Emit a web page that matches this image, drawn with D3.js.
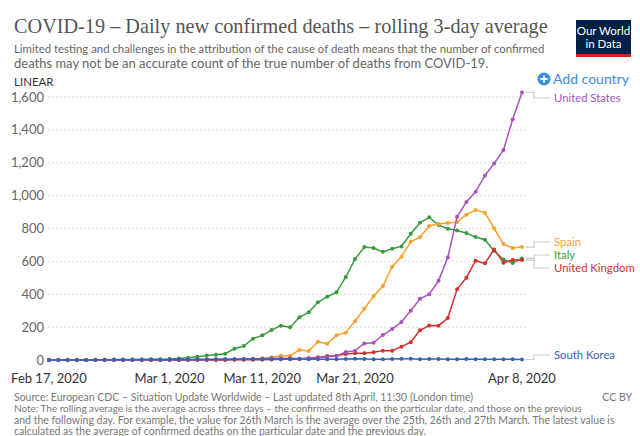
<!doctype html>
<html>
<head>
<meta charset="utf-8">
<title>COVID-19 daily new confirmed deaths</title>
<script src="https://d3js.org/d3.v7.min.js"></script>
<style>
  body { margin: 0; background: #fff; }
  svg text { font-family: Lato, "Noto Sans", sans-serif; }
</style>
</head>
<body>
<svg id="chart" width="640" height="436"></svg>
<script>
// Feb 17 .. Apr 8 2020, one value per day (rolling 3-day average)
var startDate = "2020-02-17";
var endDate = "2020-04-08";

var italy = [0, 0, 0, 0, 0.3, 1, 2, 2.7, 3, 3.3, 3, 4, 5, 6, 9, 14, 20, 28, 32, 38, 69, 85, 130, 150, 182, 209, 199, 260, 290, 351,
  385, 412, 505, 614, 687, 681, 658, 677, 691, 768, 835, 868, 821, 798, 788, 772, 748, 732, 663, 612, 590, 618];
var spain = [0, 0, 0, 0, 0, 0, 0, 0, 0, 0, 0, 0, 0, 0, 0, 0, 1, 1, 2, 2, 3, 5, 8, 10, 16, 26, 26, 61, 55, 111,
  99, 150, 166, 237, 312, 389, 450, 567, 628, 719, 747, 815, 827, 833, 839, 884, 912, 896, 800, 705, 681, 687];
var unitedStates = [0, 0, 0, 0, 0, 0, 0, 0, 0, 0, 0, 0, 0.3, 0.7, 1.3, 2, 2, 2, 3, 4, 5, 6, 8, 8, 10, 10, 11, 8, 10, 12,
  20, 24, 49, 57, 101, 105, 152, 188, 231, 300, 372, 400, 482, 624, 871, 961, 1024, 1121, 1196, 1277, 1465, 1628];
var unitedKingdom = [0, 0, 0, 0, 0, 0, 0, 0, 0, 0, 0, 0, 0, 0, 0, 0, 0, 0, 0.3, 0.7, 1, 2, 2, 3, 3, 5, 5, 7, 10, 16,
  24, 26, 36, 41, 41, 47, 57, 57, 81, 108, 181, 210, 209, 255, 430, 501, 604, 588, 673, 592, 608, 608];
var southKorea = [0, 0, 0, 0, 0.3, 0.7, 1, 1.3, 2, 2, 2.3, 2.7, 2, 2.3, 2.7, 3, 4, 5, 5, 5, 4, 5, 5, 3, 4, 5,
  6, 6, 5, 5, 4, 5, 6, 7, 6, 5, 5, 6, 7, 7, 5, 6, 6, 5, 5, 6, 5, 5, 4, 4, 4, 3];

var countryNames = ["Italy", "Spain", "United Kingdom", "United States", "South Korea"];
var countryValues = [italy, spain, unitedKingdom, unitedStates, southKorea];
var countryColors = ["#3a9b3f", "#f6a22b", "#d3302f", "#a454bd", "#3862b4"];
// end label rows (pixels), spread out so they do not overlap
var labelY = [255, 242, 268, 98, 355];

var yTicks = [0, 200, 400, 600, 800, 1000, 1200, 1400, 1600];
var xTickDates = ["2020-02-17", "2020-03-01", "2020-03-11", "2020-03-21", "2020-04-08"];

var titleText = "COVID-19 – Daily new confirmed deaths – rolling 3-day average";
var subtitleLines = [
  "Limited testing and challenges in the attribution of the cause of death means that the number of confirmed",
  "deaths may not be an accurate count of the true number of deaths from COVID-19."
];
var sourceLine = "Source: European CDC – Situation Update Worldwide – Last updated 8th April, 11:30 (London time)";
var noteLines = [
  "Note: The rolling average is the average across three days – the confirmed deaths on the particular date, and those on the previous",
  "and the following day. For example, the value for 26th March is the average over the 25th, 26th and 27th March. The latest value is",
  "calculated as the average of confirmed deaths on the particular date and the previous day."
];

var parse = d3.timeParse("%Y-%m-%d");
var dates = d3.timeDay.range(parse(startDate), d3.timeDay.offset(parse(endDate), 1));

var svg = d3.select("#chart");

var x = d3.scaleTime()
    .domain([parse(startDate), parse(endDate)])
    .range([49, 522]);
var y = d3.scaleLinear()
    .domain([0, 1600])
    .range([360, 97]);

// fit a text element to a given width by scaling its font size
function fitText(sel, width) {
  var w = sel.node().getComputedTextLength();
  var fs = parseFloat(sel.attr("font-size"));
  sel.attr("font-size", (fs * width / w).toFixed(2));
}

// title + subtitle
var title = svg.append("text")
    .attr("x", 14).attr("y", 33)
    .attr("font-size", 22)
    .style("font-family", "'Liberation Serif', 'DejaVu Serif', serif")
    .attr("fill", "#555")
    .text(titleText);
fitText(title, 534);

subtitleLines.forEach(function(line, i) {
  var t = svg.append("text")
      .attr("x", 14).attr("y", 53 + i * 15)
      .attr("font-size", 13)
      .attr("fill", "#666")
      .text(line);
  if (i == 0) fitText(t, 531);
});

// logo
var logo = svg.append("g").attr("transform", "translate(576,20)");
logo.append("rect").attr("width", 55).attr("height", 37).attr("fill", "#002147");
logo.append("rect").attr("y", 34).attr("width", 55).attr("height", 3).attr("fill", "#ce261e");
logo.append("text").attr("x", 27.5).attr("y", 15).attr("text-anchor", "middle")
    .attr("font-size", 11.5).attr("fill", "#fff").text("Our World");
logo.append("text").attr("x", 27.5).attr("y", 28).attr("text-anchor", "middle")
    .attr("font-size", 11.5).attr("fill", "#fff").text("in Data");

// LINEAR toggle label
svg.append("text")
    .attr("x", 14).attr("y", 86)
    .attr("font-size", 11.5)
    .attr("fill", "#333")
    .text("LINEAR");

// add country
var add = svg.append("g").attr("transform", "translate(544,79)");
add.append("circle").attr("r", 6.5).attr("fill", "#3b8de0");
add.append("path").attr("d", "M-3.5 0 H3.5 M0 -3.5 V3.5")
    .attr("stroke", "#fff").attr("stroke-width", 1.8);
add.append("text").attr("x", 9).attr("y", 5)
    .attr("font-size", 14).attr("fill", "#3b8de0").text("Add country");

// y grid + labels
var yAxis = svg.append("g");
yAxis.selectAll("line")
    .data(yTicks)
    .enter().append("line")
    .attr("x1", 48).attr("x2", 526)
    .attr("y1", d => y(d)).attr("y2", d => y(d))
    .attr("stroke", "#ddd")
    .attr("stroke-dasharray", "2,2");
yAxis.selectAll("text")
    .data(yTicks)
    .enter().append("text")
    .attr("x", 44).attr("y", d => y(d) + 4.5)
    .attr("text-anchor", "end")
    .attr("font-size", 13)
    .attr("fill", "#666")
    .text(d3.format(","));

// x axis labels
var fmt = d3.timeFormat("%b %-d, %Y");
svg.append("g").selectAll("text")
    .data(xTickDates.map(parse))
    .enter().append("text")
    .attr("x", d => x(d)).attr("y", 383)
    .attr("text-anchor", "middle")
    .attr("font-size", 13)
    .attr("fill", "#333")
    .text(fmt);

// lines
var line = d3.line()
    .x((d, i) => x(dates[i]))
    .y(d => y(d));

countryNames.forEach(function(name, k) {
  var vals = countryValues[k];
  var g = svg.append("g");
  g.append("path")
      .datum(vals)
      .attr("d", line)
      .attr("fill", "none")
      .attr("stroke", countryColors[k])
      .attr("stroke-width", 1.5);
  g.selectAll("circle")
      .data(vals)
      .enter().append("circle")
      .attr("cx", (d, i) => x(dates[i]))
      .attr("cy", d => y(d))
      .attr("r", 2)
      .attr("fill", countryColors[k]);
});

// end labels with connectors
var lastX = x(parse(endDate));
countryNames.forEach(function(name, k) {
  var vals = countryValues[k];
  var ey = y(vals[vals.length - 1]);
  var ly = labelY[k];
  var mx = lastX + 12;
  svg.append("path")
      .attr("d", `M${lastX + 4} ${ey} H${mx} V${ly} H${lastX + 28}`)
      .attr("fill", "none")
      .attr("stroke", "#ccc")
      .attr("stroke-width", 1.2);
  svg.append("text")
      .attr("x", lastX + 32).attr("y", ly + 4)
      .attr("font-size", 11.3)
      .attr("fill", countryColors[k])
      .text(name);
});

// footer
svg.append("text")
    .attr("x", 14).attr("y", 401)
    .attr("font-size", 10.5).attr("fill", "#777")
    .text(sourceLine);
svg.append("text")
    .attr("x", 632).attr("y", 401)
    .attr("text-anchor", "end")
    .attr("font-size", 10.5).attr("fill", "#777")
    .text("CC BY");
noteLines.forEach(function(l, i) {
  var t = svg.append("text")
      .attr("x", 14).attr("y", 412 + i * 11.5)
      .attr("font-size", 10.5).attr("fill", "#777")
      .text(l);
  if (i == 0) fitText(t, 568);
});
</script>
</body>
</html>
